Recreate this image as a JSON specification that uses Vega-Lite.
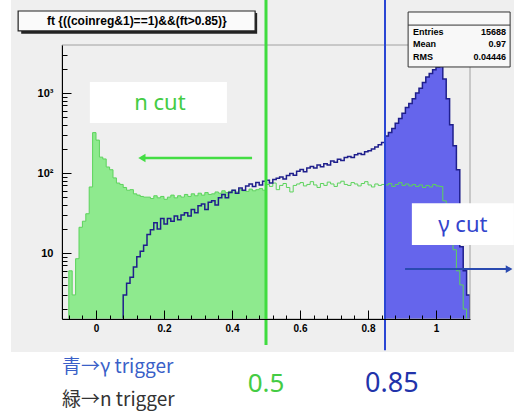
{
"$schema": "https://vega.github.io/schema/vega-lite/v6.json",
"width": 408, "height": 274,
"autosize": {"type": "none"},
"padding": {"left": 62, "top": 45, "right": 44, "bottom": 92},
"background": "#ffffff",
"config": {"view": {"stroke": null}, "axis": {"grid": false, "domainColor": "#000000", "tickColor": "#000000", "labelColor": "#000000", "labelFont": "Liberation Sans", "labelFontWeight": "bold", "labelFontSize": 10}},
"resolve": {"axis": {"x": "independent", "y": "independent"}},
"datasets": {
"h": [
{"x":-0.10,"g":1,"b":1},{"x":-0.09,"g":1,"b":1},{"x":-0.08,"g":6,"b":1},{"x":-0.07,"g":3,"b":1},{"x":-0.06,"g":8.5,"b":1},
{"x":-0.05,"g":21,"b":1},{"x":-0.04,"g":25,"b":1},{"x":-0.03,"g":31,"b":1},{"x":-0.02,"g":67,"b":1},{"x":-0.01,"g":320,"b":1},
{"x":0.00,"g":258,"b":1},{"x":0.01,"g":158,"b":1},{"x":0.02,"g":150,"b":1},{"x":0.03,"g":119,"b":1},{"x":0.04,"g":110,"b":1},
{"x":0.05,"g":87,"b":1},{"x":0.06,"g":75,"b":1},{"x":0.07,"g":72,"b":1},{"x":0.08,"g":66,"b":3},{"x":0.09,"g":61,"b":4.2},
{"x":0.10,"g":62,"b":5},{"x":0.11,"g":55,"b":6.7},{"x":0.12,"g":53,"b":9},{"x":0.13,"g":51,"b":10.5},{"x":0.14,"g":50,"b":12.5},
{"x":0.15,"g":50,"b":17},{"x":0.16,"g":48,"b":19.5},{"x":0.17,"g":52,"b":24},{"x":0.18,"g":49,"b":20},{"x":0.19,"g":51,"b":27},
{"x":0.20,"g":47,"b":23},{"x":0.21,"g":50,"b":27},{"x":0.22,"g":53,"b":25},{"x":0.23,"g":49,"b":29},{"x":0.24,"g":52,"b":26},
{"x":0.25,"g":50,"b":30},{"x":0.26,"g":54,"b":32},{"x":0.27,"g":51,"b":29},{"x":0.28,"g":55,"b":35},{"x":0.29,"g":52,"b":32},
{"x":0.30,"g":56,"b":39},{"x":0.31,"g":53,"b":41},{"x":0.32,"g":57,"b":35},{"x":0.33,"g":54,"b":43},{"x":0.34,"g":55,"b":45},
{"x":0.35,"g":58,"b":40},{"x":0.36,"g":56,"b":49},{"x":0.37,"g":60,"b":54},{"x":0.38,"g":57,"b":49},{"x":0.39,"g":59,"b":57},
{"x":0.40,"g":61,"b":61},{"x":0.41,"g":58,"b":56},{"x":0.42,"g":62,"b":65},{"x":0.43,"g":60,"b":61},{"x":0.44,"g":59,"b":69},
{"x":0.45,"g":63,"b":73},{"x":0.46,"g":60,"b":68},{"x":0.47,"g":62,"b":76},{"x":0.48,"g":64,"b":71},{"x":0.49,"g":61,"b":79},
{"x":0.50,"g":72,"b":81},{"x":0.51,"g":68,"b":75},{"x":0.52,"g":75,"b":83},{"x":0.53,"g":62,"b":86},{"x":0.54,"g":70,"b":89},
{"x":0.55,"g":74,"b":84},{"x":0.56,"g":66,"b":93},{"x":0.57,"g":58,"b":99},{"x":0.58,"g":70,"b":94},{"x":0.59,"g":73,"b":105},
{"x":0.60,"g":76,"b":111},{"x":0.61,"g":69,"b":104},{"x":0.62,"g":72,"b":116},{"x":0.63,"g":78,"b":121},{"x":0.64,"g":71,"b":116},
{"x":0.65,"g":66,"b":126},{"x":0.66,"g":74,"b":120},{"x":0.67,"g":70,"b":131},{"x":0.68,"g":77,"b":126},{"x":0.69,"g":73,"b":141},
{"x":0.70,"g":68,"b":136},{"x":0.71,"g":75,"b":149},{"x":0.72,"g":79,"b":143},{"x":0.73,"g":72,"b":156},{"x":0.74,"g":70,"b":161},
{"x":0.75,"g":76,"b":156},{"x":0.76,"g":73,"b":169},{"x":0.77,"g":69,"b":176},{"x":0.78,"g":74,"b":170},{"x":0.79,"g":78,"b":185},
{"x":0.80,"g":71,"b":190},{"x":0.81,"g":67,"b":200},{"x":0.82,"g":73,"b":212},{"x":0.83,"g":70,"b":225},{"x":0.84,"g":72,"b":240},
{"x":0.85,"g":71,"b":290},{"x":0.86,"g":74,"b":320},{"x":0.87,"g":68,"b":360},{"x":0.88,"g":72,"b":420},{"x":0.89,"g":76,"b":480},
{"x":0.90,"g":70,"b":560},{"x":0.91,"g":73,"b":660},{"x":0.92,"g":69,"b":740},{"x":0.93,"g":72,"b":850},{"x":0.94,"g":68,"b":1000},
{"x":0.95,"g":71,"b":1150},{"x":0.96,"g":66,"b":1350},{"x":0.97,"g":70,"b":1580},{"x":0.98,"g":67,"b":1750},{"x":0.99,"g":72,"b":1950},
{"x":1.00,"g":69,"b":2100},{"x":1.01,"g":68,"b":2150},{"x":1.02,"g":45,"b":1500},{"x":1.03,"g":30,"b":850},{"x":1.04,"g":18,"b":400},
{"x":1.05,"g":11,"b":220},{"x":1.06,"g":6,"b":110},{"x":1.07,"g":4,"b":12},{"x":1.08,"g":2,"b":6},{"x":1.09,"g":1,"b":3},
{"x":1.10,"g":1,"b":1}
]
},
"encoding": {"x": {"field": "x", "type": "quantitative", "scale": {"domain": [-0.1, 1.1], "nice": false, "zero": false}, "axis": null}},
"layer": [
{"data": {"values": [{"x": -0.25, "x2": 1.23, "y": 14540, "y2": 0.58}]},
 "mark": {"type": "rect", "color": "#efefef"},
 "encoding": {"x2": {"field": "x2"}, "y": {"field": "y", "type": "quantitative", "scale": {"type": "log", "domain": [1.5, 3980], "nice": false}, "axis": null}, "y2": {"field": "y2"}}},
{"data": {"name": "h"}, "transform": [{"filter": "datum.x <= 0.5"}],
 "mark": {"type": "area", "interpolate": "step-after", "clip": true, "color": "#8eea8e"},
 "encoding": {
  "x": {"field": "x", "type": "quantitative", "scale": {"domain": [-0.1, 1.1], "nice": false, "zero": false},
        "axis": {"orient": "bottom", "zindex": 2, "values": [0, 0.2, 0.4, 0.6, 0.8, 1], "format": "~g", "tickSize": -9, "labelPadding": 13, "title": null}},
  "y": {"field": "g", "type": "quantitative", "scale": {"type": "log", "domain": [1.5, 3980], "nice": false},
        "axis": {"orient": "left", "zindex": 2, "values": [10, 100, 1000], "labelExpr": "datum.value == 10 ? '10' : datum.value == 100 ? '10²' : '10³'", "labelFontSize": 11, "tickSize": -9, "labelPadding": 18, "title": null}},
  "y2": {"datum": 1}}},
{"data": {"name": "h"}, "transform": [{"filter": "datum.x >= 0.85"}],
 "mark": {"type": "area", "interpolate": "step-after", "clip": true, "color": "#6565ec"},
 "encoding": {
  "x": {"field": "x", "type": "quantitative", "scale": {"domain": [-0.1, 1.1], "nice": false, "zero": false},
        "axis": {"orient": "bottom", "zindex": 2, "values": [-0.08,-0.04,0,0.04,0.08,0.12,0.16,0.2,0.24,0.28,0.32,0.36,0.4,0.44,0.48,0.52,0.56,0.6,0.64,0.68,0.72,0.76,0.8,0.84,0.88,0.92,0.96,1,1.04,1.08], "labels": false, "domain": false, "tickSize": -4, "title": null}},
  "y": {"field": "b", "type": "quantitative", "scale": {"type": "log", "domain": [1.5, 3980], "nice": false},
        "axis": {"orient": "left", "zindex": 2, "values": [2,3,4,5,6,7,8,9,20,30,40,50,60,70,80,90,200,300,400,500,600,700,800,900,2000,3000], "labels": false, "domain": false, "tickSize": -5, "title": null}},
  "y2": {"datum": 1}}},
{"data": {"name": "h"},
 "mark": {"type": "line", "interpolate": "step-after", "clip": true, "color": "#5cd35c", "strokeWidth": 1},
 "encoding": {"y": {"field": "g", "type": "quantitative", "scale": {"type": "log", "domain": [1.5, 3980], "nice": false}, "axis": null}}},
{"data": {"name": "h"},
 "mark": {"type": "line", "interpolate": "step-after", "clip": true, "color": "#1f1f8c", "strokeWidth": 1.5},
 "encoding": {"y": {"field": "b", "type": "quantitative", "scale": {"type": "log", "domain": [1.5, 3980], "nice": false}, "axis": null}}},
{"data": {"values": [{"x": -0.1, "x2": 1.1, "y": 3980, "y2": 1.5}]},
 "mark": {"type": "rect", "filled": false, "color": "#a0a0a0", "strokeWidth": 1},
 "encoding": {"x2": {"field": "x2"}, "y": {"field": "y", "type": "quantitative", "scale": {"type": "log", "domain": [1.5, 3980], "nice": false}, "axis": null}, "y2": {"field": "y2"}}},
{"data": {"values": [{"x": 0.5, "y": 14540, "y2": 0.71}]},
 "mark": {"type": "rule", "color": "#3fdc3f", "strokeWidth": 3},
 "encoding": {"y": {"field": "y", "type": "quantitative", "scale": {"type": "log", "domain": [1.5, 3980], "nice": false}, "axis": null}, "y2": {"field": "y2"}}},
{"data": {"values": [{"x": 0.85, "y": 14540, "y2": 0.61}]},
 "mark": {"type": "rule", "color": "#2a46d4", "strokeWidth": 2},
 "encoding": {"y": {"field": "y", "type": "quantitative", "scale": {"type": "log", "domain": [1.5, 3980], "nice": false}, "axis": null}, "y2": {"field": "y2"}}},
{"data": {"values": [{"x": -0.018, "x2": 0.385, "y": 1372, "y2": 422}]},
 "mark": {"type": "rect", "color": "#ffffff"},
 "encoding": {"x2": {"field": "x2"}, "y": {"field": "y", "type": "quantitative", "scale": {"type": "log", "domain": [1.5, 3980], "nice": false}, "axis": null}, "y2": {"field": "y2"}}},
{"data": {"values": [{"x": 0.188, "y": 750, "t": "n cut"}]},
 "mark": {"type": "text", "color": "#44cc44", "font": "Noto Sans", "fontSize": 22, "align": "center", "baseline": "middle"},
 "encoding": {"y": {"field": "y", "type": "quantitative", "scale": {"type": "log", "domain": [1.5, 3980], "nice": false}, "axis": null}, "text": {"field": "t"}}},
{"data": {"values": [{"x": 0.135, "y": 154}, {"x": 0.459, "y": 154}]},
 "mark": {"type": "line", "color": "#44dd44", "strokeWidth": 2.5},
 "encoding": {"y": {"field": "y", "type": "quantitative", "scale": {"type": "log", "domain": [1.5, 3980], "nice": false}, "axis": null}}},
{"data": {"values": [{"x": 0.135, "y": 154}]},
 "mark": {"type": "point", "shape": "triangle-left", "filled": true, "color": "#44dd44", "size": 70, "opacity": 1},
 "encoding": {"y": {"field": "y", "type": "quantitative", "scale": {"type": "log", "domain": [1.5, 3980], "nice": false}, "axis": null}}},
{"data": {"values": [{"x": 0.929, "x2": 1.229, "y": 42, "y2": 12.6}]},
 "mark": {"type": "rect", "color": "#ffffff"},
 "encoding": {"x2": {"field": "x2"}, "y": {"field": "y", "type": "quantitative", "scale": {"type": "log", "domain": [1.5, 3980], "nice": false}, "axis": null}, "y2": {"field": "y2"}}},
{"data": {"values": [{"x": 1.079, "y": 22.4, "t": "γ cut"}]},
 "mark": {"type": "text", "color": "#3344cc", "font": "Noto Sans", "fontSize": 22, "align": "center", "baseline": "middle"},
 "encoding": {"y": {"field": "y", "type": "quantitative", "scale": {"type": "log", "domain": [1.5, 3980], "nice": false}, "axis": null}, "text": {"field": "t"}}},
{"data": {"values": [{"x": 0.909, "y": 6.3}, {"x": 1.215, "y": 6.3}]},
 "mark": {"type": "line", "color": "#2a4ab0", "strokeWidth": 2},
 "encoding": {"y": {"field": "y", "type": "quantitative", "scale": {"type": "log", "domain": [1.5, 3980], "nice": false}, "axis": null}}},
{"data": {"values": [{"x": 1.215, "y": 6.3}]},
 "mark": {"type": "point", "shape": "triangle-right", "filled": true, "color": "#2a4ab0", "size": 60, "opacity": 1},
 "encoding": {"y": {"field": "y", "type": "quantitative", "scale": {"type": "log", "domain": [1.5, 3980], "nice": false}, "axis": null}}},
{"data": {"values": [{"x": -0.22, "x2": 0.474, "y": 10000, "y2": 5500}]},
 "mark": {"type": "rect", "color": "#222222"},
 "encoding": {"x2": {"field": "x2"}, "y": {"field": "y", "type": "quantitative", "scale": {"type": "log", "domain": [1.5, 3980], "nice": false}, "axis": null}, "y2": {"field": "y2"}}},
{"data": {"values": [{"x": -0.229, "x2": 0.468, "y": 10590, "y2": 5960}]},
 "mark": {"type": "rect", "color": "#fafafa", "stroke": "#222222", "strokeWidth": 1.2},
 "encoding": {"x2": {"field": "x2"}, "y": {"field": "y", "type": "quantitative", "scale": {"type": "log", "domain": [1.5, 3980], "nice": false}, "axis": null}, "y2": {"field": "y2"}}},
{"data": {"values": [{"x": 0.12, "y": 7940, "t": "ft {((coinreg&1)==1)&&(ft>0.85)}"}]},
 "mark": {"type": "text", "color": "#000000", "font": "Liberation Sans", "fontWeight": "bold", "fontSize": 12, "align": "center", "baseline": "middle"},
 "encoding": {"y": {"field": "y", "type": "quantitative", "scale": {"type": "log", "domain": [1.5, 3980], "nice": false}, "axis": null}, "text": {"field": "t"}}},
{"data": {"values": [{"x": 0.918, "x2": 1.218, "y": 10290, "y2": 2115}]},
 "mark": {"type": "rect", "color": "#f8f8f8", "stroke": "#333333", "strokeWidth": 1},
 "encoding": {"x2": {"field": "x2"}, "y": {"field": "y", "type": "quantitative", "scale": {"type": "log", "domain": [1.5, 3980], "nice": false}, "axis": null}, "y2": {"field": "y2"}}},
{"data": {"values": [{"x": 0.918, "x2": 1.218, "y": 7060}]},
 "mark": {"type": "rule", "color": "#333333", "strokeWidth": 1},
 "encoding": {"x2": {"field": "x2"}, "y": {"field": "y", "type": "quantitative", "scale": {"type": "log", "domain": [1.5, 3980], "nice": false}, "axis": null}}},
{"data": {"values": [{"x": 0.932, "y": 5790, "t": "Entries"}, {"x": 0.932, "y": 4100, "t": "Mean"}, {"x": 0.932, "y": 2820, "t": "RMS"}]},
 "mark": {"type": "text", "color": "#000000", "font": "Liberation Sans", "fontWeight": "bold", "fontSize": 9, "align": "left", "baseline": "middle"},
 "encoding": {"y": {"field": "y", "type": "quantitative", "scale": {"type": "log", "domain": [1.5, 3980], "nice": false}, "axis": null}, "text": {"field": "t"}}},
{"data": {"values": [{"x": 1.206, "y": 5790, "t": "15688"}, {"x": 1.206, "y": 4100, "t": "0.97"}, {"x": 1.206, "y": 2820, "t": "0.04446"}]},
 "mark": {"type": "text", "color": "#000000", "font": "Liberation Sans", "fontWeight": "bold", "fontSize": 9, "align": "right", "baseline": "middle"},
 "encoding": {"y": {"field": "y", "type": "quantitative", "scale": {"type": "log", "domain": [1.5, 3980], "nice": false}, "axis": null}, "text": {"field": "t"}}},
{"data": {"values": [{"x": -0.1, "y": 0.376, "t": "青→γ trigger"}]},
 "mark": {"type": "text", "color": "#3a5fc8", "font": "Noto Sans CJK JP", "fontSize": 19, "align": "left", "baseline": "middle"},
 "encoding": {"y": {"field": "y", "type": "quantitative", "scale": {"type": "log", "domain": [1.5, 3980], "nice": false}, "axis": null}, "text": {"field": "t"}}},
{"data": {"values": [{"x": -0.1, "y": 0.145, "t": "緑→n trigger"}]},
 "mark": {"type": "text", "color": "#333333", "font": "Noto Sans CJK JP", "fontSize": 19, "align": "left", "baseline": "middle"},
 "encoding": {"y": {"field": "y", "type": "quantitative", "scale": {"type": "log", "domain": [1.5, 3980], "nice": false}, "axis": null}, "text": {"field": "t"}}},
{"data": {"values": [{"x": 0.5, "y": 0.23, "t": "0.5"}]},
 "mark": {"type": "text", "color": "#44cc44", "font": "Noto Sans", "fontSize": 26, "align": "center", "baseline": "middle"},
 "encoding": {"y": {"field": "y", "type": "quantitative", "scale": {"type": "log", "domain": [1.5, 3980], "nice": false}, "axis": null}, "text": {"field": "t"}}},
{"data": {"values": [{"x": 0.87, "y": 0.23, "t": "0.85"}]},
 "mark": {"type": "text", "color": "#2233aa", "font": "Noto Sans", "fontSize": 27, "align": "center", "baseline": "middle"},
 "encoding": {"y": {"field": "y", "type": "quantitative", "scale": {"type": "log", "domain": [1.5, 3980], "nice": false}, "axis": null}, "text": {"field": "t"}}}
]
}
